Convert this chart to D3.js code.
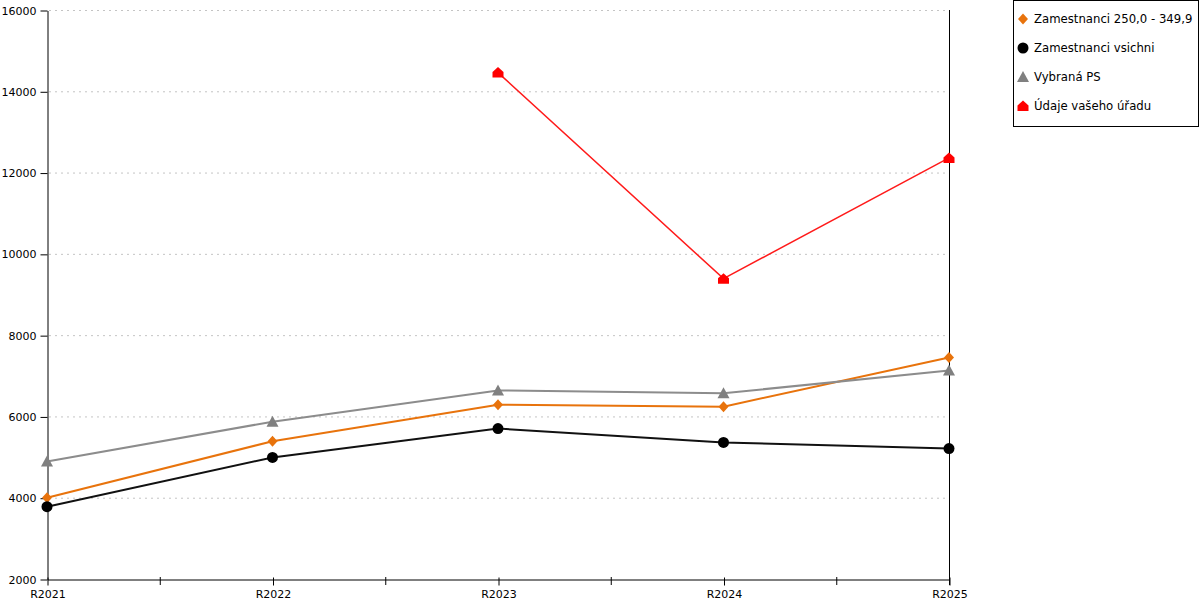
<!DOCTYPE html>
<html>
<head>
<meta charset="utf-8">
<script src="https://cdn.jsdelivr.net/npm/d3@7"></script>
<style>
  body { margin: 0; background: #fff; }
  svg { font-family: "DejaVu Sans", sans-serif; }
</style>
</head>
<body>
<script>
var years = ["R2021", "R2022", "R2023", "R2024", "R2025"];
var yTicks = [2000, 4000, 6000, 8000, 10000, 12000, 14000, 16000];

var orangeVals = [4000, 5390, 6290, 6240, 7450];
var blackVals = [3780, 4990, 5700, 5360, 5210];
var grayVals = [4890, 5870, 6640, 6570, 7130];
var redVals = [null, null, 14460, 9390, 12360];

var seriesNames = ["Zamestnanci 250,0 - 349,9", "Zamestnanci vsichni", "Vybraná PS", "Údaje vašeho úřadu"];

var series = [
	{name: seriesNames[0], values: orangeVals, color: "#e8730c", lineColor: "#e8730c", width: 2, shape: "diamond"},
	{name: seriesNames[1], values: blackVals, color: "#000000", lineColor: "#111111", width: 2, shape: "circle"},
	{name: seriesNames[2], values: grayVals, color: "#808080", lineColor: "#8c8c8c", width: 2, shape: "triangle"},
	{name: seriesNames[3], values: redVals, color: "#ff0000", lineColor: "#ff1a1a", width: 1.5, shape: "house"}
];

// plot box (not "top": that name is taken by window.top)
var plotLeft = 47, plotRight = 949, plotTop = 10, plotBottom = 579;

var svg = d3.select("body").append("svg")
	.attr("width", 1200)
	.attr("height", 600);

var x = d3.scalePoint().domain(years).range([plotLeft, plotRight]);
var y = d3.scaleLinear().domain([2000, 16000]).range([plotBottom, plotTop]);

// grid
svg.append("g").selectAll("line").data(yTicks.slice(1)).enter()
	.append("line")
	.attr("x1", plotLeft + 2).attr("x2", plotRight)
	.attr("y1", d => y(d) + 0.5).attr("y2", d => y(d) + 0.5)
	.attr("stroke", "#c4c4c4")
	.attr("stroke-dasharray", "2,4");

// y axis
var yAxis = svg.append("g")
	.attr("transform", "translate(" + (plotLeft + 0.5) + ",0.5)")
	.call(d3.axisLeft(y).tickValues(yTicks).tickSizeInner(7).tickSizeOuter(0).tickPadding(4).tickFormat(d3.format("d")));
yAxis.selectAll("text").attr("font-size", 11).attr("font-family", "DejaVu Sans").attr("fill", "#000");
yAxis.select(".domain").attr("stroke", "#000");

// right line
svg.append("line")
	.attr("x1", plotRight + 0.5).attr("x2", plotRight + 0.5)
	.attr("y1", plotTop).attr("y2", plotBottom + 6)
	.attr("stroke", "#000");

// x axis
var xAxis = svg.append("g")
	.attr("transform", "translate(0.5," + (plotBottom + 0.5) + ")")
	.call(d3.axisBottom(x).tickSizeInner(5).tickSizeOuter(0).tickPadding(6));
xAxis.selectAll("text").attr("font-size", 11).attr("font-family", "DejaVu Sans").attr("fill", "#000");
xAxis.selectAll(".tick line").attr("y1", -2).attr("y2", 6);

// minor ticks between categories
var mids = d3.pairs(years).map(p => (x(p[0]) + x(p[1])) / 2);
svg.append("g").selectAll("line").data(mids).enter()
	.append("line")
	.attr("x1", d => d + 0.5).attr("x2", d => d + 0.5)
	.attr("y1", plotBottom - 2).attr("y2", plotBottom + 6)
	.attr("stroke", "#000");

function markerPath(shape) {
	if (shape === "diamond") return "M0,-5.5L5,0L0,5.5L-5,0Z";
	if (shape === "triangle") return "M0,-6L6,5L-6,5Z";
	if (shape === "house") return "M0,-5.5L5.5,-0.5L5.5,5L-5.5,5L-5.5,-0.5Z";
	return null;
}

function drawMarker(g, shape, color) {
	if (shape === "circle") {
		g.append("circle").attr("r", 5.5).attr("fill", color);
	} else {
		g.append("path").attr("d", markerPath(shape)).attr("fill", color);
	}
}

var line = d3.line()
	.defined(d => d != null)
	.x((d, i) => x(years[i]))
	.y(d => y(d));

series.forEach(function(s) {
	svg.append("path")
		.datum(s.values)
		.attr("fill", "none")
		.attr("stroke", s.lineColor)
		.attr("stroke-width", s.width)
		.attr("d", line);
});

series.forEach(function(s) {
	s.values.forEach(function(v, i) {
		if (v == null) return;
		var g = svg.append("g").attr("transform", "translate(" + x(years[i]) + "," + y(v) + ")");
		drawMarker(g, s.shape, s.color);
	});
});

// legend
var legend = svg.append("g");
legend.append("rect")
	.attr("x", 1013.5).attr("y", 0.5)
	.attr("width", 185).attr("height", 126)
	.attr("fill", "#fff").attr("stroke", "#000");

series.forEach(function(s, i) {
	var ly = 19 + i * 29;
	var g = legend.append("g").attr("transform", "translate(1023," + ly + ")");
	drawMarker(g, s.shape, s.color);
	legend.append("text")
		.attr("x", 1034).attr("y", ly)
		.attr("dy", "0.35em")
		.attr("font-size", 11.7)
		.attr("fill", "#000")
		.text(s.name);
});
</script>
</body>
</html>
